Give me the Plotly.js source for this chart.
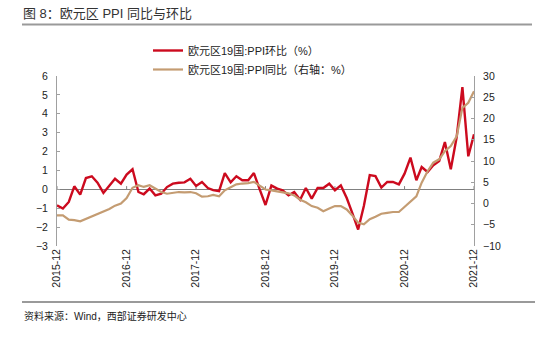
<!DOCTYPE html>
<html>
<head>
<meta charset="utf-8">
<script src="https://cdn.plot.ly/plotly-3.0.1.min.js"></script>
<style>html,body{margin:0;padding:0;background:#fff;}#chart{width:550px;height:337px;}</style>
</head>
<body>
<div id="chart"></div>
<script>
const months = [
  '2015-12',
  '2016-01','2016-02','2016-03','2016-04','2016-05','2016-06','2016-07','2016-08','2016-09','2016-10','2016-11','2016-12',
  '2017-01','2017-02','2017-03','2017-04','2017-05','2017-06','2017-07','2017-08','2017-09','2017-10','2017-11','2017-12',
  '2018-01','2018-02','2018-03','2018-04','2018-05','2018-06','2018-07','2018-08','2018-09','2018-10','2018-11','2018-12',
  '2019-01','2019-02','2019-03','2019-04','2019-05','2019-06','2019-07','2019-08','2019-09','2019-10','2019-11','2019-12',
  '2020-01','2020-02','2020-03','2020-04','2020-05','2020-06','2020-07','2020-08','2020-09','2020-10','2020-11','2020-12',
  '2021-01','2021-02','2021-03','2021-04','2021-05','2021-06','2021-07','2021-08','2021-09','2021-10','2021-11','2021-12'
];
// 欧元区19国:PPI环比（%）
const ppiMoM = [
  -0.85,
  -1.02,-0.67,0.16,-0.28,0.60,0.69,0.35,-0.19,0.21,0.56,0.30,0.78,
  1.06,-0.14,-0.26,0.04,-0.32,-0.23,0.12,0.30,0.35,0.37,0.56,0.18,
  0.39,0.07,-0.04,-0.10,0.86,0.37,0.69,0.48,0.48,0.86,-0.02,-0.83,
  0.20,0.04,-0.05,-0.32,-0.14,-0.55,0.07,-0.49,0.07,0.07,0.30,-0.05,
  0.21,-0.46,-1.25,-2.13,-0.88,0.75,0.70,0.09,0.39,0.39,0.26,0.83,
  1.68,0.48,1.18,0.92,1.27,1.50,2.50,1.06,2.77,5.41,1.75,2.91
];
// 欧元区19国:PPI同比（右轴：%）
const ppiYoY = [
  -2.8,
  -2.8,-3.8,-3.9,-4.2,-3.6,-3.0,-2.4,-1.8,-1.3,-0.5,0.0,1.3,
  3.7,4.3,3.9,4.3,3.5,2.7,2.3,2.5,2.7,2.6,2.7,2.4,
  1.6,1.7,2.0,1.7,3.1,3.8,4.5,4.7,4.8,5.1,4.2,3.3,
  3.1,2.9,2.7,2.4,1.9,0.9,0.3,-0.6,-1.0,-1.8,-1.2,-0.6,
  -0.6,-1.4,-2.8,-4.5,-4.9,-3.7,-3.1,-2.4,-2.2,-2.0,-2.0,-0.8,
  0.5,1.7,4.9,7.6,9.6,10.4,12.3,13.5,15.8,22.5,23.7,26.4
];
const xTicks = ['2015-12','2016-12','2017-12','2018-12','2019-12','2020-12','2021-12'];
const leftTicks = [-3,-2,-1,0,1,2,3,4,5,6];
const rightTicks = [-10,-5,0,5,10,15,20,25,30];
const seriesNames = ['欧元区19国:PPI环比（%）','欧元区19国:PPI同比（右轴：%）'];
const titleText = '图 8：欧元区 PPI 同比与环比';
const sourceText = '资料来源：Wind，西部证券研发中心';

const FONT = 'Liberation Sans, Arial, "Noto Sans CJK SC", sans-serif';

const traces = [
  {
    x: months, y: ppiYoY, yaxis: 'y2', type: 'scatter', mode: 'lines',
    name: seriesNames[1], legendrank: 2,
    line: {color: '#C49C72', width: 2.2}
  },
  {
    x: months, y: ppiMoM, yaxis: 'y', type: 'scatter', mode: 'lines',
    name: seriesNames[0], legendrank: 1,
    line: {color: '#CC0A1E', width: 2.4}
  }
];

const W = 550, H = 337;
const ml = 57, mr = 76, mt = 76, mb = 91;
const pw = W - ml - mr, ph = H - mt - mb;
function px2paperX(px){ return (px - ml) / pw; }
function px2paperY(py){ return (H - mb - py) / ph; }

const shapes = [
  {type:'line', xref:'paper', yref:'paper', x0:px2paperX(22), x1:px2paperX(532), y0:px2paperY(24.5), y1:px2paperY(24.5), line:{color:'#9a9a9a', width:2}},
  {type:'line', xref:'paper', yref:'paper', x0:px2paperX(22), x1:px2paperX(535), y0:px2paperY(302), y1:px2paperY(302), line:{color:'#9a9a9a', width:2}}
];
xTicks.forEach(t => {
  shapes.push({type:'line', xref:'x', yref:'y', x0:t, x1:t, y0:0, y1:0.17, line:{color:'#808080', width:1}, layer:'below'});
});

const layout = {
  width: W, height: H,
  margin: {l: ml, r: mr, t: mt, b: mb, pad: 0, autoexpand: false},
  paper_bgcolor: '#fff', plot_bgcolor: '#fff',
  font: {family: FONT, size: 10.5, color: '#222'},
  title: {
    text: titleText, xref: 'container', yref: 'container',
    x: 23 / W, xanchor: 'left', y: 1 - 13 / H, yanchor: 'middle',
    font: {family: FONT, size: 13, color: '#333'}
  },
  showlegend: true,
  legend: {
    xref: 'container', yref: 'container', x: 148 / W, y: 1 - 36 / H,
    xanchor: 'left', yanchor: 'top', orientation: 'v',
    bgcolor: 'rgba(0,0,0,0)', font: {family: FONT, size: 11, color: '#222'},
    itemwidth: 30, tracegroupgap: 0
  },
  xaxis: {
    type: 'date', range: ['2015-12-01', '2021-12-01'],
    tickmode: 'array', tickvals: xTicks, ticktext: xTicks,
    tickangle: -90, showgrid: false, zeroline: false, showline: false, ticks: '',
    tickfont: {family: FONT, size: 10.5, color: '#222'}
  },
  yaxis: {
    range: [-3, 6], tickmode: 'array', tickvals: leftTicks,
    showgrid: false, zeroline: true, zerolinecolor: '#808080', zerolinewidth: 1,
    showline: true, linecolor: '#a0a0a0', linewidth: 1,
    ticks: 'inside', ticklen: 3, tickcolor: '#a0a0a0',
    ticklabelstandoff: 6,
    tickfont: {family: FONT, size: 10.5, color: '#222'}
  },
  yaxis2: {
    overlaying: 'y', side: 'right', range: [-10, 30], tickmode: 'array', tickvals: rightTicks,
    showgrid: false, zeroline: false,
    showline: true, linecolor: '#a0a0a0', linewidth: 1,
    ticks: 'inside', ticklen: 3, tickcolor: '#a0a0a0',
    ticklabelstandoff: 6,
    tickfont: {family: FONT, size: 10.5, color: '#222'}
  },
  shapes: shapes,
  annotations: [
    {text: sourceText, xref: 'paper', yref: 'paper', x: px2paperX(22), y: px2paperY(316),
     xanchor: 'left', yanchor: 'middle', showarrow: false,
     font: {family: FONT, size: 10, color: '#222'}}
  ]
};

Plotly.newPlot('chart', traces, layout, {displayModeBar: false, staticPlot: true});
</script>
</body>
</html>
